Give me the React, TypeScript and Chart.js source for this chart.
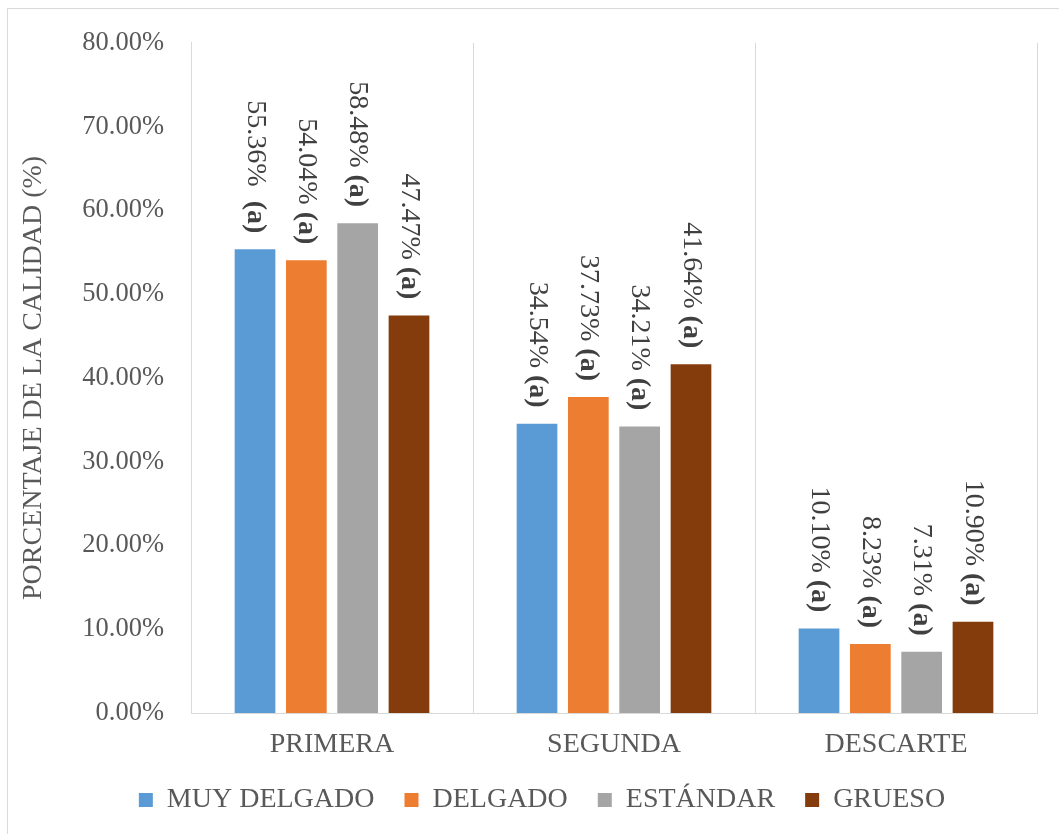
import React, { useEffect, useRef } from "react";
import { Chart, registerables } from "chart.js";

Chart.register(...registerables);

const categories = ["PRIMERA", "SEGUNDA", "DESCARTE"];
const seriesNames = ["MUY DELGADO", "DELGADO", "ESTÁNDAR", "GRUESO"];
const muyDelgado = [55.36, 34.54, 10.1];
const delgado = [54.04, 37.73, 8.23];
const estandar = [58.48, 34.21, 7.31];
const grueso = [47.47, 41.64, 10.9];
const letters = [
  ["  (a)", " (a)", " (a)"],
  [" (a)", " (a)", " (a)"],
  [" (a)", " (a)", " (a)"],
  [" (a)", " (a)", " (a)"],
];
const colors = ["#5B9BD5", "#ED7D31", "#A5A5A5", "#843C0C"];
const yTitle = "PORCENTAJE DE LA CALIDAD (%)";

const FONT = "'Liberation Serif', 'Times New Roman', serif";
const TEXT = "#595959";

const frame = {
  id: "frame",
  beforeDraw(chart: any) {
    const { ctx, width, height } = chart;
    ctx.save();
    ctx.fillStyle = "#ffffff";
    ctx.fillRect(0, 0, width, height);
    ctx.strokeStyle = "#d9d9d9";
    ctx.lineWidth = 1;
    ctx.strokeRect(7.5, 8.5, width + 20, height + 20);
    ctx.restore();
  },
};

const barLabels = {
  id: "barLabels",
  afterDatasetsDraw(chart: any) {
    const { ctx } = chart;
    chart.data.datasets.forEach((ds: any, di: number) => {
      const meta = chart.getDatasetMeta(di);
      meta.data.forEach((bar: any, i: number) => {
        const valText = (ds.data[i] as number).toFixed(2) + "%";
        const letText = letters[di][i];
        ctx.save();
        ctx.translate(bar.x, bar.y - 16);
        ctx.rotate(Math.PI / 2);
        ctx.textBaseline = "middle";
        ctx.textAlign = "left";
        ctx.fillStyle = "#404040";
        ctx.font = `28px ${FONT}`;
        const w1 = ctx.measureText(valText).width;
        ctx.font = `bold 28px ${FONT}`;
        const w2 = ctx.measureText(letText).width;
        const start = -(w1 + w2);
        ctx.font = `28px ${FONT}`;
        ctx.fillText(valText, start, 0);
        ctx.font = `bold 28px ${FONT}`;
        ctx.fillText(letText, start + w1, 0);
        ctx.restore();
      });
    });
  },
};

export default function App() {
  const ref = useRef<HTMLCanvasElement | null>(null);
  useEffect(() => {
    if (!ref.current) return;
    const series = [muyDelgado, delgado, estandar, grueso];
    const chart = new Chart(ref.current, {
      type: "bar",
      data: {
        labels: categories,
        datasets: series.map((d, i) => ({
          label: seriesNames[i],
          data: d,
          backgroundColor: colors[i],
          borderWidth: 0,
          barPercentage: 0.793,
          categoryPercentage: 0.728,
        })),
      },
      options: {
        responsive: false,
        animation: false,
        layout: { padding: { top: 38, right: 22, bottom: 10, left: 47 } },
        plugins: {
          tooltip: { enabled: false },
          legend: {
            position: "bottom",
            title: {
              display: true,
              text: "",
              font: { size: 1, lineHeight: "0px" },
              padding: { top: -12, bottom: 0 },
            },
            labels: {
              boxWidth: 14,
              boxHeight: 14,
              padding: 30,
              color: TEXT,
              font: { family: FONT, size: 28 },
            },
          },
        },
        scales: {
          x: {
            offset: true,
            grid: { display: true, offset: true, color: "#d9d9d9", drawTicks: false },
            border: { display: true, color: "#d9d9d9", width: 1 },
            ticks: { color: TEXT, padding: 15, font: { family: FONT, size: 28 } },
            afterFit(scale: any) {
              scale.height = 55;
            },
          },
          y: {
            min: 0,
            max: 80,
            ticks: {
              stepSize: 10,
              color: TEXT,
              padding: 27,
              font: { family: FONT, size: 26.5 },
              callback: (v: any) => Number(v).toFixed(2) + "%",
            },
            grid: { display: false, drawTicks: false },
            border: { display: true, color: "#d9d9d9", width: 1 },
            title: {
              display: true,
              text: yTitle,
              color: TEXT,
              font: { family: FONT, size: 28, lineHeight: 1 },
              padding: { top: -27.5, bottom: 0 },
            },
            afterFit(scale: any) {
              scale.width = 144;
            },
          },
        },
      },
      plugins: [frame, barLabels],
    });
    return () => chart.destroy();
  }, []);
  return (
    <div style={{ position: "fixed", left: 0, top: 0, width: 1059, height: 834, background: "#fff" }}>
      <canvas ref={ref} width={1059} height={834} style={{ display: "block", width: 1059, height: 834 }} />
    </div>
  );
}
